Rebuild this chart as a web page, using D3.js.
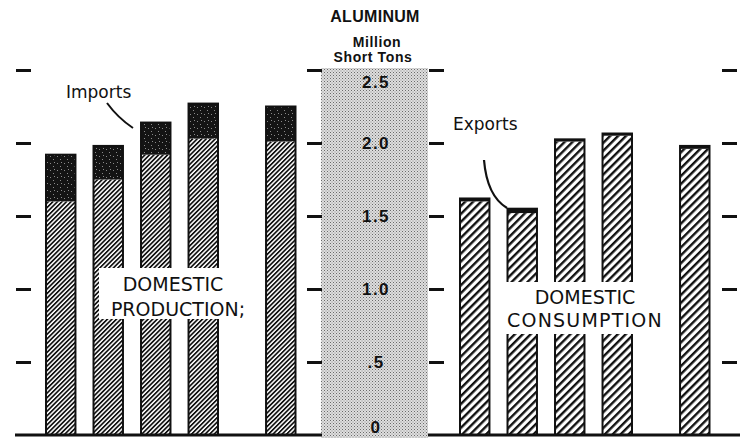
<!DOCTYPE html>
<html>
<head>
<meta charset="utf-8">
<script src="https://cdn.jsdelivr.net/npm/d3@7"></script>
<style>
  body { margin: 0; background: #fff; }
  text { font-family: "DejaVu Sans", sans-serif; }
  .num { font-family: "Liberation Sans", Arial, sans-serif; font-weight: bold; }
</style>
</head>
<body>
<svg id="chart" width="743" height="438"></svg>
<script>
// values (million short tons)
var years = ["1955", "1956", "1957", "1958", "1960"];
var production = [1.60, 1.75, 1.92, 2.03, 2.01];
var imports = [0.32, 0.23, 0.22, 0.24, 0.24];
var consumption = [1.60, 1.52, 2.01, 2.05, 1.96];
var exports = [0.02, 0.03, 0.015, 0.015, 0.02];
var tickValues = [0, 0.5, 1.0, 1.5, 2.0, 2.5];
var tickLabels = ["0", ".5", "1.0", "1.5", "2.0", "2.5"];

var svg = d3.select("#chart");

var y = d3.scaleLinear().domain([0, 2.5]).range([435, 70]);

// patterns
var defs = svg.append("defs");

var fine = defs.append("pattern")
    .attr("id", "fine").attr("patternUnits", "userSpaceOnUse")
    .attr("width", 3.2).attr("height", 3.2)
    .attr("patternTransform", "rotate(45)");
fine.append("rect").attr("width", 3.2).attr("height", 3.2).attr("fill", "#fff");
fine.append("rect").attr("width", 1.7).attr("height", 3.2).attr("fill", "#111");

var coarse = defs.append("pattern")
    .attr("id", "coarse").attr("patternUnits", "userSpaceOnUse")
    .attr("width", 5.6).attr("height", 5.6)
    .attr("patternTransform", "rotate(45)");
coarse.append("rect").attr("width", 5.6).attr("height", 5.6).attr("fill", "#fff");
coarse.append("rect").attr("width", 2.4).attr("height", 5.6).attr("fill", "#111");

var dark = defs.append("pattern")
    .attr("id", "dark").attr("patternUnits", "userSpaceOnUse")
    .attr("width", 7).attr("height", 7);
dark.append("rect").attr("width", 7).attr("height", 7).attr("fill", "#141414");
[[1, 2], [4, 5], [5, 1]].forEach(function(p) {
    dark.append("rect").attr("x", p[0]).attr("y", p[1]).attr("width", 1).attr("height", 1).attr("fill", "#8a8a8a");
});

var stipple = defs.append("pattern")
    .attr("id", "stipple").attr("patternUnits", "userSpaceOnUse")
    .attr("width", 3).attr("height", 3);
stipple.append("rect").attr("width", 3).attr("height", 3).attr("fill", "#dedede");
stipple.append("rect").attr("x", 0).attr("y", 0).attr("width", 1).attr("height", 1).attr("fill", "#6a6a6a");
stipple.append("rect").attr("x", 1.5).attr("y", 1.5).attr("width", 1).attr("height", 1).attr("fill", "#8a8a8a");

// central grey band with the scale
svg.append("rect")
    .attr("x", 321).attr("y", 68)
    .attr("width", 107).attr("height", 370)
    .attr("fill", "url(#stipple)");

svg.selectAll(".num")
    .data(tickValues)
    .enter().append("text")
    .attr("class", "num")
    .attr("x", 376)
    .attr("y", function(d) { return Math.max(88, Math.min(433, y(d) + 6)); })
    .attr("text-anchor", "middle")
    .attr("font-size", 17)
    .attr("letter-spacing", 1.5)
    .attr("fill", "#111")
    .text(function(d, i) { return tickLabels[i]; });

svg.append("text").attr("class", "num")
    .attr("x", 375).attr("y", 22).attr("text-anchor", "middle")
    .attr("font-size", 16).attr("letter-spacing", 0.3).attr("fill", "#111").text("ALUMINUM");
svg.append("text").attr("class", "num")
    .attr("x", 377).attr("y", 47).attr("text-anchor", "middle")
    .attr("font-size", 14).attr("letter-spacing", 0.6).attr("fill", "#111").text("Million");
svg.append("text").attr("class", "num")
    .attr("x", 373).attr("y", 62).attr("text-anchor", "middle")
    .attr("font-size", 14).attr("letter-spacing", 0.6).attr("fill", "#111").text("Short Tons");

// bars
function panelX(x0) {
    return d3.scaleBand().domain(years).range([x0, x0 + 219.5]).paddingInner(0.38).paddingOuter(0);
}
var lastGap = 30;
function xPos(x, d, i) { return x(d) + (i === years.length - 1 ? lastGap : 0); }

function drawPanel(x0, lower, upper, lowerFill, upperFill) {
    var x = panelX(x0);
    var rows = years.map(function(yr, i) { return { year: yr, lower: lower[i], upper: upper[i] }; });
    var series = d3.stack().keys(["lower", "upper"])(rows);
    var fills = [lowerFill, upperFill];
    var g = svg.append("g");

    series.forEach(function(s, k) {
        g.selectAll(".s" + k)
            .data(s)
            .enter().append("rect")
            .attr("x", function(d, i) { return xPos(x, d.data.year, i); })
            .attr("y", function(d) { return y(d[1]); })
            .attr("width", x.bandwidth())
            .attr("height", function(d) { return y(d[0]) - y(d[1]); })
            .attr("fill", fills[k]);
    });
    g.selectAll(".outline")
        .data(rows)
        .enter().append("rect")
        .attr("x", function(d, i) { return xPos(x, d.year, i); })
        .attr("y", function(d) { return y(d.lower + d.upper); })
        .attr("width", x.bandwidth())
        .attr("height", function(d) { return y(0) - y(d.lower + d.upper); })
        .attr("fill", "none")
        .attr("stroke", "#111")
        .attr("stroke-width", 2);
}

drawPanel(46, production, imports, "url(#fine)", "url(#dark)");
drawPanel(460, consumption, exports, "url(#coarse)", "#111");

// labels in white boxes
svg.append("rect").attr("x", 99).attr("y", 268).attr("width", 146).attr("height", 51).attr("fill", "#fff");
svg.append("text").attr("x", 173).attr("y", 291).attr("text-anchor", "middle")
    .attr("font-size", 19).attr("fill", "#111").text("DOMESTIC");
svg.append("text").attr("x", 178).attr("y", 316).attr("text-anchor", "middle")
    .attr("font-size", 19).attr("fill", "#111").text("PRODUCTION;");

svg.append("rect").attr("x", 491).attr("y", 282).attr("width", 180).attr("height", 52).attr("fill", "#fff");
svg.append("text").attr("x", 585).attr("y", 304).attr("text-anchor", "middle")
    .attr("font-size", 19).attr("fill", "#111").text("DOMESTIC");
svg.append("text").attr("x", 585).attr("y", 327).attr("text-anchor", "middle")
    .attr("font-size", 19).attr("letter-spacing", 1.2).attr("fill", "#111").text("CONSUMPTION");

svg.append("text").attr("x", 66).attr("y", 98)
    .attr("font-size", 17).attr("fill", "#111").text("Imports");
svg.append("path").attr("d", "M107,103 Q118,118 133,128")
    .attr("fill", "none").attr("stroke", "#111").attr("stroke-width", 2);

svg.append("text").attr("x", 453).attr("y", 130)
    .attr("font-size", 17).attr("fill", "#111").text("Exports");
svg.append("path").attr("d", "M484,160 Q487,196 507,208")
    .attr("fill", "none").attr("stroke", "#111").attr("stroke-width", 2.2);

// tick marks and baselines
var sideTicks = tickValues.filter(function(v) { return v > 0; });
function ticks(axis, at) {
    var g = svg.append("g")
        .attr("transform", "translate(" + at + ",0)")
        .call(axis.tickValues(sideTicks).tickSize(15).tickFormat(""));
    g.select(".domain").remove();
    g.selectAll("line").attr("stroke", "#111").attr("stroke-width", 3);
}
ticks(d3.axisLeft(y), 31);
ticks(d3.axisLeft(y), 322);
ticks(d3.axisRight(y), 429);
ticks(d3.axisRight(y), 722);

svg.append("line").attr("x1", 15).attr("x2", 322).attr("y1", y(0)).attr("y2", y(0))
    .attr("stroke", "#111").attr("stroke-width", 3);
svg.append("line").attr("x1", 428).attr("x2", 740).attr("y1", y(0)).attr("y2", y(0))
    .attr("stroke", "#111").attr("stroke-width", 3);
</script>
</body>
</html>
